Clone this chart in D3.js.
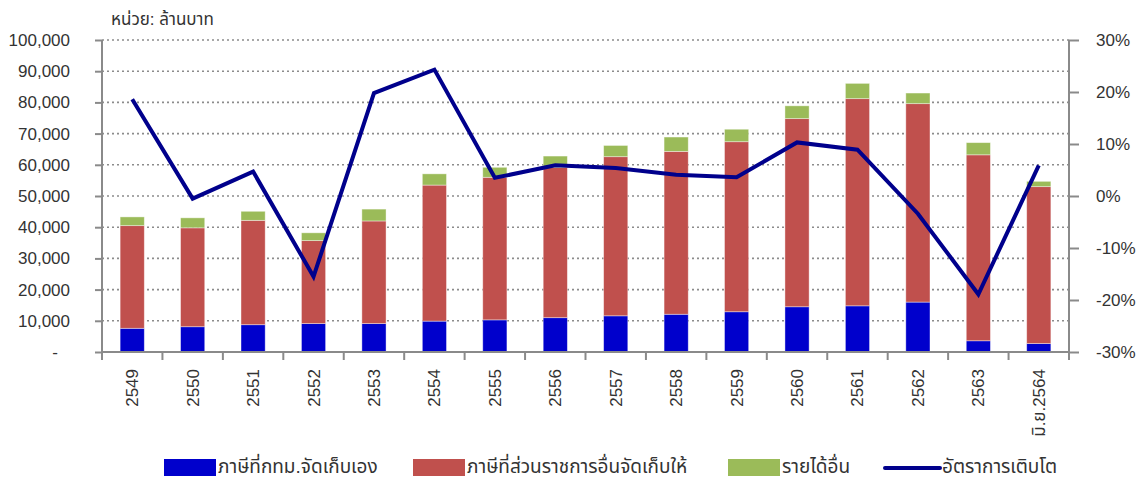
<!DOCTYPE html>
<html><head><meta charset="utf-8">
<script src="https://cdn.jsdelivr.net/npm/d3@7"></script>
<style>
body{margin:0;background:#fff}
text{font-family:"Liberation Sans",Arial,"Noto Sans Thai","Tahoma",sans-serif;fill:#333}
</style>
</head><body>
<svg id="c" width="1142" height="477"></svg>
<script>
const categories = ["2549","2550","2551","2552","2553","2554","2555","2556","2557","2558","2559","2560","2561","2562","2563","มิ.ย.2564"];
const bmaTax      = [7600, 8100, 8750, 9100, 9100, 9900, 10300, 11000, 11600, 12100, 12900, 14500, 14800, 16000, 3600, 2700];
const sharedTax   = [32900, 31700, 33450, 26600, 32900, 43600, 45700, 48100, 51000, 52200, 54500, 60300, 66400, 63600, 59600, 50300];
const otherIncome = [2800, 3200, 2900, 2500, 3800, 3600, 3200, 3700, 3600, 4600, 4000, 4100, 4900, 3400, 3900, 1700];
const growth      = [18.6, -0.5, 4.7, -15.5, 19.8, 24.3, 3.5, 5.9, 5.4, 4.1, 3.6, 10.3, 8.9, -3.4, -18.9, 5.9];
const leftTicks   = [0,10000,20000,30000,40000,50000,60000,70000,80000,90000,100000];
const rightTicks  = [-30,-20,-10,0,10,20,30];
const seriesNames = ["ภาษีที่กทม.จัดเก็บเอง","ภาษีที่ส่วนราชการอื่นจัดเก็บให้","รายได้อื่น","อัตราการเติบโต"];
const unitTitle   = "หน่วย: ล้านบาท";

const colors = ["#0000CC","#C0504D","#9BBB59"];
const lineColor = "#00008C";
const axisColor = "#8a8a8a";

const svg = d3.select("#c");
const L = 102, R = 1069, T = 40, B = 352;

const x = d3.scaleBand().domain(categories).range([L, R]).padding(0);
const y = d3.scaleLinear().domain([0, 100000]).range([B, T]);
const y2 = d3.scaleLinear().domain([-30, 30]).range([B, T]);

// title
svg.append("text").attr("x", 111).attr("y", 25).attr("font-size", 17).text(unitTitle);

// gridlines
svg.append("g").selectAll("line").data(leftTicks.filter(d => d > 0)).join("line")
  .attr("x1", L).attr("x2", R).attr("y1", d => y(d)).attr("y2", d => y(d))
  .attr("stroke", "#8c8c8c").attr("stroke-width", 1.6).attr("stroke-dasharray", "2,3");

// stacked bars
const rows = categories.map((c, i) => ({cat: c, a: bmaTax[i], b: sharedTax[i], c2: otherIncome[i]}));
const stack = d3.stack().keys(["a","b","c2"])(rows);
const bw = x.bandwidth() * 0.4;
svg.append("g").selectAll("g").data(stack).join("g")
  .attr("fill", (d, i) => colors[i])
  .selectAll("rect").data(d => d).join("rect")
  .attr("x", d => x(d.data.cat) + (x.bandwidth() - bw) / 2)
  .attr("width", bw)
  .attr("y", d => y(d[1]))
  .attr("height", d => y(d[0]) - y(d[1]))
  .attr("stroke", "rgba(255,255,255,0.5)").attr("stroke-width", 0.8);

// axes
const gl = svg.append("g").attr("transform", `translate(${L},0)`)
  .call(d3.axisLeft(y).tickValues(leftTicks).tickSize(7).tickPadding(25)
    .tickFormat(d => d === 0 ? "-" : d3.format(",")(d)));
gl.selectAll("text").filter(d => d === 0).attr("x", -44);

const gr = svg.append("g").attr("transform", `translate(${R},0)`)
  .call(d3.axisRight(y2).tickValues(rightTicks).tickSize(10).tickPadding(17)
    .tickFormat(d => d + "%"));

[gl, gr].forEach(g => {
  g.select(".domain").attr("stroke", axisColor).attr("stroke-width", 2).attr("d", `M0,${T}V${B+6}`);
  g.selectAll(".tick line").attr("stroke", axisColor).attr("stroke-width", 2);
  g.selectAll("text").attr("font-size", 17).attr("fill", "#333").attr("font-family", '"Liberation Sans",Arial,sans-serif');
});

// x axis
const gx = svg.append("g");
gx.append("line").attr("x1", L).attr("x2", R).attr("y1", B).attr("y2", B)
  .attr("stroke", axisColor).attr("stroke-width", 2);
const bounds = categories.map(c => x(c)).concat([R]);
gx.selectAll("line.t").data(bounds).join("line").attr("class","t")
  .attr("x1", d => d).attr("x2", d => d).attr("y1", B).attr("y2", B + 8)
  .attr("stroke", axisColor).attr("stroke-width", 2);
gx.selectAll("text").data(categories).join("text")
  .attr("transform", d => `translate(${x(d) + x.bandwidth()/2 + 6},369) rotate(-90)`)
  .attr("text-anchor", "end").attr("font-size", 17).text(d => d);

// growth line
const line = d3.line().x((d, i) => x(categories[i]) + x.bandwidth()/2).y(d => y2(d));
svg.append("path").datum(growth).attr("d", line).attr("fill", "none")
  .attr("stroke", lineColor).attr("stroke-width", 4).attr("stroke-linejoin", "miter");

// legend
const lg = svg.append("g");
const legX = [164, 413, 728, 885];
[0,1,2].forEach(i => {
  lg.append("rect").attr("x", legX[i]).attr("y", 459).attr("width", 52).attr("height", 17).attr("fill", colors[i]);
  lg.append("text").attr("x", legX[i] + 54).attr("y", 473).attr("font-size", 19).text(seriesNames[i]);
});
lg.append("line").attr("x1", legX[3]).attr("x2", legX[3] + 55).attr("y1", 468).attr("y2", 468)
  .attr("stroke", lineColor).attr("stroke-width", 4).attr("stroke-linecap", "round");
lg.append("text").attr("x", legX[3] + 57).attr("y", 473).attr("font-size", 19).text(seriesNames[3]);
</script>
</body></html>
